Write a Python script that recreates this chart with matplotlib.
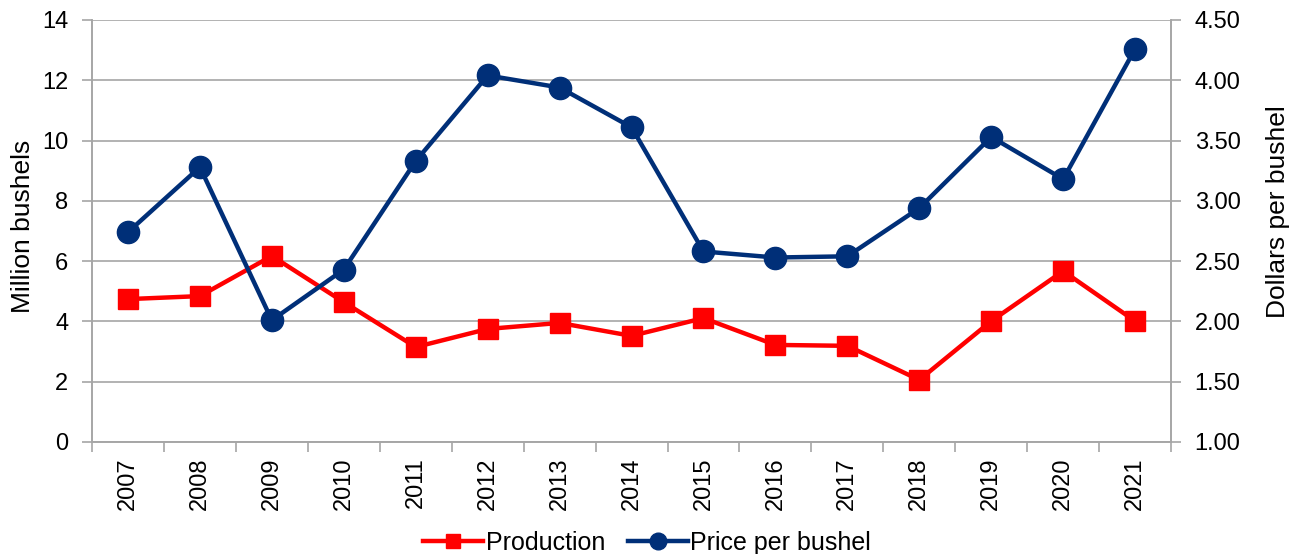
import numpy as np
import matplotlib.pyplot as plt
from matplotlib.ticker import FixedLocator, FormatStrFormatter

plt.rcParams['font.family'] = ['Liberation Sans', 'DejaVu Sans']

years = ['2007', '2008', '2009', '2010', '2011', '2012', '2013', '2014',
         '2015', '2016', '2017', '2018', '2019', '2020', '2021']
production = [4.74, 4.84, 6.17, 4.64, 3.15, 3.75, 3.95, 3.52,
              4.11, 3.22, 3.19, 2.06, 4.01, 5.67, 4.01]
price = [2.74, 3.28, 2.01, 2.43, 3.33, 4.04, 3.94, 3.61,
         2.58, 2.53, 2.54, 2.94, 3.53, 3.18, 4.26]

red = '#FF0000'
navy = '#002F78'
grey = '#A6A6A6'
fs = 17

fig = plt.figure(figsize=(12.94, 5.54), dpi=100)
ax = fig.add_axes([0.0711, 0.2022, 0.8339, 0.7617])
ax2 = ax.twinx()

x = np.arange(len(years))

# production on left axis, price on right axis
l1, = ax.plot(x, production, color=red, lw=3.2, marker='s', ms=14,
              label='Production', zorder=3)
l2, = ax2.plot(x, price, color=navy, lw=3.2, marker='o', ms=16,
               label='Price per bushel', zorder=3)

ax.set_xlim(-0.5, len(years) - 0.5)
ax.set_ylim(0, 14)
ax.set_yticks(np.arange(0, 15, 2))
ax2.set_ylim(1.0, 4.5)
ax2.set_yticks(np.arange(1.0, 4.51, 0.5))
ax2.yaxis.set_major_formatter(FormatStrFormatter('%.2f'))

ax.set_xticks(x)
ax.set_xticklabels(years, rotation=90)
ax.xaxis.set_minor_locator(FixedLocator(np.arange(-0.5, len(years), 1)))
ax.tick_params(axis='x', which='major', length=0, pad=11, labelsize=fs)
ax.tick_params(axis='x', which='minor', length=7, width=1.2, color=grey)
ax.tick_params(axis='y', length=7, width=1.2, color=grey, labelsize=fs, pad=10)
ax2.tick_params(axis='y', length=7, width=1.2, color=grey, labelsize=fs, pad=10)

ax.grid(axis='y', color=grey, lw=1.2)
ax.set_axisbelow(True)

for a in (ax, ax2):
    for side in ('left', 'right', 'bottom'):
        a.spines[side].set_color(grey)
        a.spines[side].set_linewidth(1.2)
    a.spines['top'].set_visible(False)

ax.set_ylabel('Million bushels', fontsize=19, labelpad=5)
ax2.set_ylabel('Dollars per bushel', fontsize=19, labelpad=18)
ax.yaxis.label.set_y(0.51)
ax2.yaxis.label.set_y(0.545)

fig.legend(handles=[l1, l2], loc='lower center', bbox_to_anchor=(0.5, -0.042),
           ncol=2, frameon=False, fontsize=18, handlelength=2.4,
           markerscale=0.75, columnspacing=0.9, handletextpad=0.1)

fig.savefig('out.png', dpi=100)
